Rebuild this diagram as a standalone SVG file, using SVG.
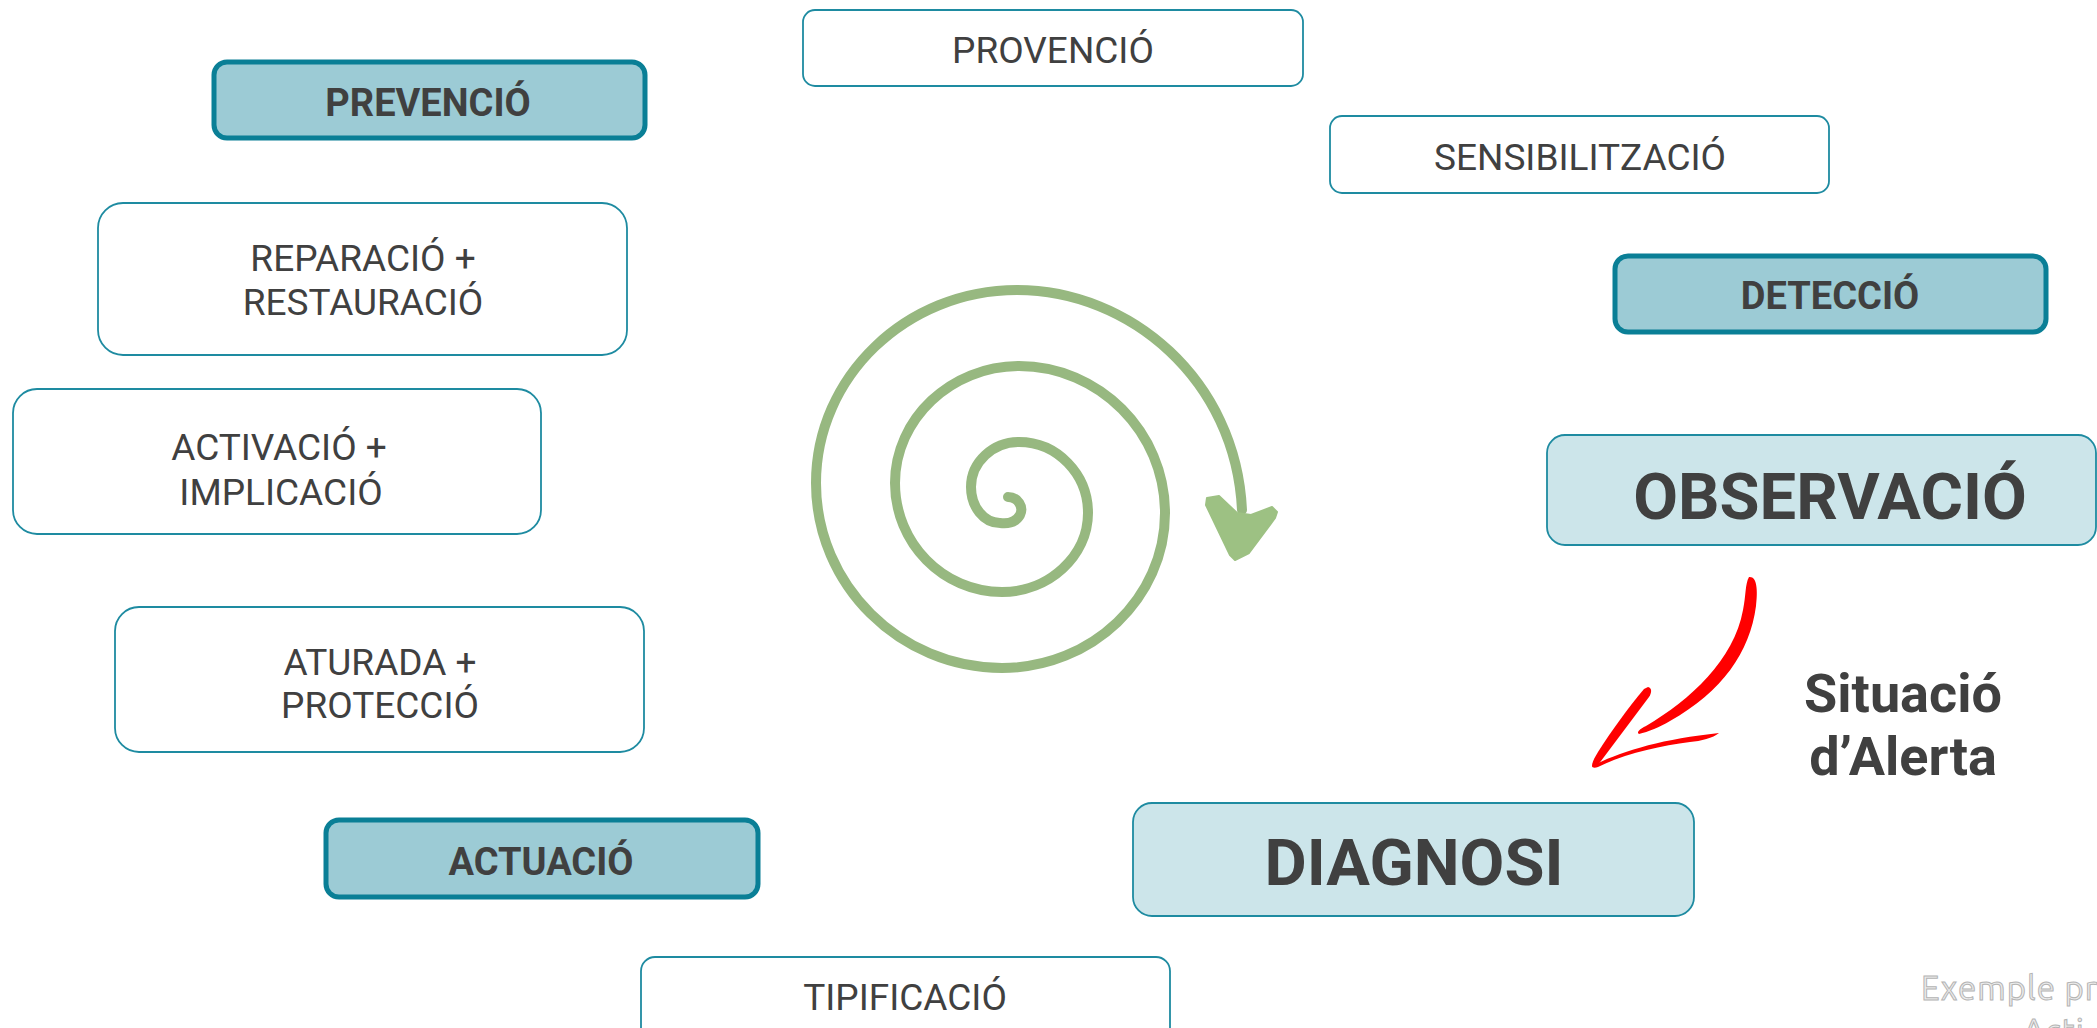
<svg xmlns="http://www.w3.org/2000/svg" width="2097" height="1028" viewBox="0 0 2097 1028">
<style>
  .plain rect { fill: #ffffff; stroke: #1e8ba1; stroke-width: 1.8; }
  .key rect { fill: #9ccbd5; stroke: #0a7f96; stroke-width: 5; }
  .big rect { fill: #cce5ea; stroke: #1e8ba1; stroke-width: 1.8; }
  text { font-family: Roboto, "Liberation Sans", sans-serif; fill: #404040; text-anchor: middle; }
  .r { font-size: 37px; font-weight: 400; }
  .b { font-size: 38px; font-weight: 700; }
  .xl { font-size: 65px; font-weight: 700; }
  .lab { font-size: 54px; font-weight: 700; }
  .note { font-family: Ubuntu, "Open Sans", "DejaVu Sans", sans-serif; font-size: 33px; fill: #ececec; stroke: #b4b4b4; stroke-width: 1; text-anchor: start; letter-spacing: 1px; }
</style>
<rect x="0" y="0" width="2097" height="1028" fill="#ffffff"/>

<g id="provencio" class="plain">
  <rect x="803" y="10" width="500" height="76" rx="12"/>
  <text class="r" x="1053" y="63">PROVENCIÓ</text>
</g>
<g id="prevencio" class="key">
  <rect x="214" y="62" width="431" height="76" rx="13"/>
  <text class="b" x="428" y="116">PREVENCIÓ</text>
</g>
<g id="sensibilitzacio" class="plain">
  <rect x="1330" y="116" width="499" height="77" rx="12"/>
  <text class="r" x="1580" y="170">SENSIBILITZACIÓ</text>
</g>
<g id="reparacio" class="plain">
  <rect x="98" y="203" width="529" height="152" rx="25"/>
  <text class="r" x="363" y="271">REPARACIÓ +</text>
  <text class="r" x="363" y="315">RESTAURACIÓ</text>
</g>
<g id="deteccio" class="key">
  <rect x="1615" y="256" width="431" height="76" rx="13"/>
  <text class="b" x="1830" y="309">DETECCIÓ</text>
</g>
<g id="activacio" class="plain">
  <rect x="13" y="389" width="528" height="145" rx="24"/>
  <text class="r" x="279" y="460">ACTIVACIÓ +</text>
  <text class="r" x="281" y="505">IMPLICACIÓ</text>
</g>
<g id="observacio" class="big">
  <rect x="1547" y="435" width="549" height="110" rx="18"/>
  <text class="xl" x="1830" y="519">OBSERVACIÓ</text>
</g>
<g id="aturada" class="plain">
  <rect x="115" y="607" width="529" height="145" rx="24"/>
  <text class="r" x="380" y="675">ATURADA +</text>
  <text class="r" x="380" y="718">PROTECCIÓ</text>
</g>
<g id="actuacio" class="key">
  <rect x="326" y="820" width="432" height="77" rx="13"/>
  <text class="b" x="541" y="875">ACTUACIÓ</text>
</g>
<g id="diagnosi" class="big">
  <rect x="1133" y="803" width="561" height="113" rx="19"/>
  <text class="xl" x="1414" y="885">DIAGNOSI</text>
</g>
<g id="tipificacio" class="plain">
  <rect x="641" y="957" width="529" height="100" rx="14"/>
  <text class="r" x="905" y="1010">TIPIFICACIÓ</text>
</g>

<g id="situacio-alerta">
  <text class="lab" x="1903" y="712">Situació</text>
  <text class="lab" x="1903" y="775">d’Alerta</text>
</g>

<g id="connectors">
  <g id="spiral">
    <path d="M1008,497 C1018,497 1024,507 1020,515 C1016,522 1008,524 1000,523 C984,523 971,507 971,487 C971,462 993,442 1019,442 C1057,442 1088,474 1088,513 C1088,556 1049,592 1002,592 C943,592 895,543 895,483 C895,419 951,366 1019,366 C1099,366 1165,432 1165,513 C1165,598 1092,668 1002,668 C900,668 816,585 816,483 C816,377 906,290 1017,290 C1130,290 1236,380 1242,510" fill="none" stroke="#97b880" stroke-width="10" stroke-linecap="round"/>
    <polygon points="1207,498 1219,496 1237,513 1251,515 1272,507 1277,512 1275,518 1249,553 1235,560 1230,555 1206,505" fill="#9dc183" stroke="#9dc183" stroke-width="2" stroke-linejoin="round"/>
  </g>
  <g id="red-arrow" fill="#ff0000">
    <path d="M1749,577 C1757,576 1758,590 1756,606 C1750,652 1722,692 1670,721 C1660,727 1648,732 1639,734 C1636,732 1640,729 1646,726 C1690,700 1734,660 1743,610 C1746,596 1745,584 1749,577 Z"/>
    <path d="M1648,687 C1652,688 1652,692 1649,697 L1601,761 C1598,765 1594,767 1592,766 C1592,762 1595,757 1598,752 C1612,730 1628,708 1644,689 Z"/>
    <path d="M1592,766 C1622,751 1662,739 1719,733 C1713,738 1701,741 1690,742 C1660,746 1626,753 1598,767 C1595,768 1592,768 1592,766 Z"/>
  </g>
</g>

<g id="footnote">
  <text class="note" x="1921" y="1000">Exemple pr</text>
  <text class="note" x="2023" y="1043">Acti</text>
</g>
</svg>
